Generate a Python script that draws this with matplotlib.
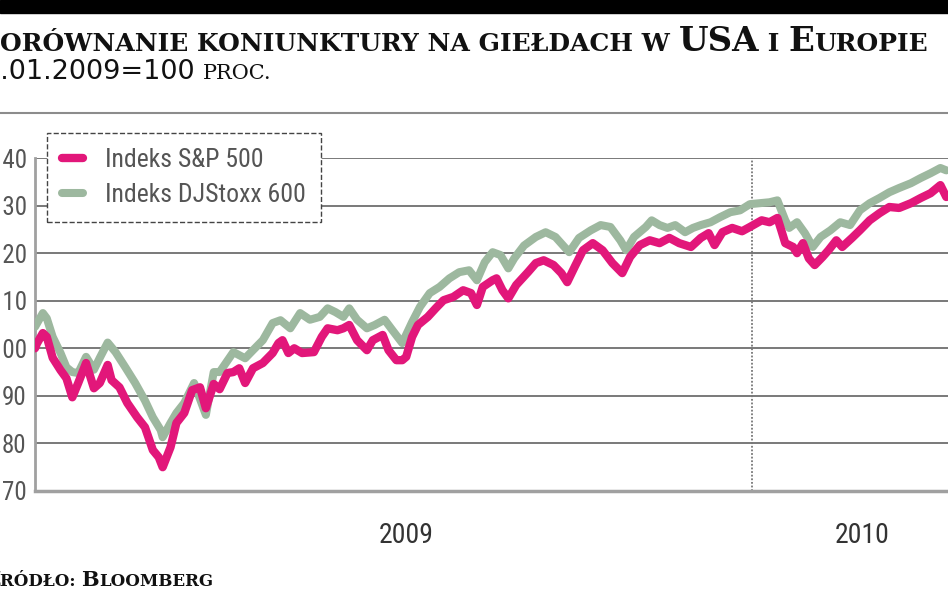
from matplotlib import pyplot as plt
from matplotlib import font_manager
from matplotlib.patches import Rectangle
from matplotlib.lines import Line2D
from matplotlib.transforms import IdentityTransform

# Days counted from 1 Jan 2009, index 2.01.2009 = 100
sp_days = [0, 1, 4, 6, 9, 13, 16, 19, 22, 26, 30, 33, 37, 39, 43, 47, 52, 56, 60, 63,
           65, 69, 72, 76, 80, 84, 87, 91, 94, 98, 101, 104, 107, 111, 116, 121, 124, 126, 129, 132,
           136, 142, 146, 149, 154, 157, 160, 164, 169, 172, 177, 180, 184, 187, 189, 192, 195, 200, 204, 208,
           213, 218, 222, 225, 228, 233, 235, 238, 241, 245, 251, 255, 259, 264, 268, 271, 275, 279, 284, 289,
           294, 299, 303, 308, 313, 318, 323, 328, 334, 339, 343, 346, 350, 355, 360, 364, 370, 374, 378, 380,
           382, 386, 388, 391, 394, 397, 401, 404, 408, 411, 416, 420, 425, 430, 435, 440, 446, 451, 456, 461,
           464]
sp_vals = [100, 101, 103.2, 102.4, 98, 95.4, 93.7, 89.7, 92.7, 96.9, 91.6, 92.7, 96.5, 93.3, 91.8, 88.5, 85.5, 83.4, 78.6, 77.1,
           75, 79.2, 84.3, 86.4, 91.2, 91.8, 87.4, 92.5, 91.4, 94.8, 95, 95.8, 92.7, 95.8, 96.9, 99, 101.1, 101.7, 99, 100,
           99, 99.2, 102.4, 104.2, 103.8, 104.2, 104.9, 101.7, 99.6, 101.7, 102.8, 99.6, 97.5, 97.5, 98.2, 102.4, 104.9, 106.6, 108.4, 110.1,
           110.8, 112.2, 111.6, 109.1, 112.9, 114.3, 114.7, 112.2, 110.5, 113.3, 116, 117.9, 118.5, 117.5, 115.8, 113.9, 117.3, 120.6, 122.1, 120.6,
           117.9, 115.8, 119.2, 121.7, 122.7, 122.1, 123.2, 122.1, 121.3, 123.2, 124.2, 121.7, 124.4, 125.3, 124.6, 125.5, 126.9, 126.5, 127.4, 124.8,
           122.1, 121.3, 120, 122.1, 118.9, 117.5, 119.2, 120.6, 122.7, 121.3, 123.2, 124.8, 126.9, 128.4, 129.7, 129.5, 130.5, 131.6, 132.6, 134.3,
           131.8]

stoxx_days = [0, 4, 6, 9, 13, 16, 19, 22, 26, 30, 33, 37, 41, 46, 51, 56, 60, 64, 65, 69,
              72, 76, 81, 87, 91, 94, 101, 107, 111, 116, 121, 125, 130, 135, 140, 145, 149, 153, 157, 160,
              164, 169, 173, 178, 182, 187, 192, 196, 201, 206, 211, 216, 221, 225, 229, 233, 237, 241, 244, 249,
              255, 260, 265, 270, 272, 277, 283, 288, 293, 298, 301, 305, 311, 314, 318, 322, 326, 331, 335, 339,
              344, 349, 354, 359, 364, 369, 374, 378, 382, 384, 388, 392, 396, 400, 405, 410, 415, 420, 425, 430,
              435, 440, 446, 451, 456, 461, 464]
stoxx_vals = [104.5, 107.4, 106.3, 102.4, 99, 96, 95, 94.8, 98.2, 95.5, 98, 101.2, 99.2, 96, 92.7, 89, 85.5, 82.8, 81.3, 84.3,
              86.4, 88.5, 92.7, 86, 95, 95, 99.2, 97.9, 99.6, 101.7, 105.3, 105.9, 104.2, 107.4, 106, 106.6, 108.4, 107.6, 106.6, 108.4,
              106, 104.2, 104.9, 106, 103.8, 101.1, 105.5, 108.7, 111.6, 112.9, 114.7, 116, 116.4, 114.3, 118.1, 120.2, 119.6, 116.8, 118.9, 121.6,
              123.4, 124.4, 123.4, 121.1, 120.2, 123.2, 124.8, 125.9, 125.5, 122.7, 120.6, 123.4, 125.5, 126.9, 125.9, 125.3, 125.9, 124.4, 125.3, 125.9,
              126.5, 127.6, 128.6, 129, 130.3, 130.5, 130.7, 131.1, 126.9, 125.3, 126.5, 124.2, 121.3, 123.4, 124.8, 126.5, 125.9, 129, 130.5, 131.6,
              132.8, 133.7, 134.7, 135.8, 136.8, 137.9, 137.4]

labels = ["Indeks S&P 500", "Indeks DJStoxx 600"]
year_pos = [189, 421]
year_labels = ["2009", "2010"]
y_ticks = [70, 80, 90, 100, 110, 120, 130, 140]

pink = "#e2177a"
green = "#9db89f"

# look for a narrow sans face, otherwise fall back to a light Roboto at a smaller size
narrow_name, narrow_stretch, scale = "Roboto", "normal", 0.8
found = {}
for f in font_manager.fontManager.ttflist:
    st = f.stretch
    is_narrow = (isinstance(st, str) and "condensed" in st) or (not isinstance(st, str) and st < 500)
    if is_narrow or "Narrow" in f.name or "Condensed" in f.name:
        found.setdefault(f.name, st)
for name in ["Liberation Sans Narrow", "Roboto Condensed", "Open Sans Condensed", "Roboto", "Open Sans",
             "Noto Sans", "DejaVu Sans", "Lato", "Inter"]:
    if name in found:
        narrow_name, narrow_stretch, scale = name, found[name], 1.0
        break
narrow = {"family": [narrow_name, "DejaVu Sans"], "stretch": narrow_stretch}
if scale < 1:
    narrow["weight"] = "light"

W, H = 948, 593
fig = plt.figure(figsize=(W / 100, H / 100), dpi=100)


def fx(px):
    return px / W


def fy(py):
    return 1 - py / H


# Header bar and rule
fig.add_artist(Rectangle((0, fy(13)), 1, 13 / H, transform=fig.transFigure, color="black"))
fig.add_artist(Line2D([0, 1], [fy(113), fy(113)], transform=fig.transFigure, color="#8c8c8c", lw=1.5))

ax = fig.add_axes([fx(35), fy(491), fx(948) - fx(35), fy(158) - fy(491)])

ax.plot(stoxx_days, stoxx_vals, color=green, lw=5.8, solid_joinstyle="round", solid_capstyle="round",
        label=labels[1], zorder=3)
ax.plot(sp_days, sp_vals, color=pink, lw=6, solid_joinstyle="round", solid_capstyle="round",
        label=labels[0], zorder=4)
ax.axvline(365, color="#777777", ls=(0, (1, 1)), lw=1.3, zorder=2)

ax.set_xlim(0, (948 - 35) / 1.964)
ax.set_ylim(70, 140)
ax.set_yticks(y_ticks)
ax.set_yticklabels([str(v) for v in y_ticks], fontsize=18 * scale, color="#555555", **narrow)
ax.set_xticks(year_pos)
ax.set_xticklabels(year_labels, fontsize=20 * scale, color="#333333", **narrow)
ax.tick_params(axis="y", length=0, pad=6)
ax.tick_params(axis="x", length=0, pad=22)
ax.grid(axis="y", color="#6e6e6e", lw=1.3, zorder=1)
ax.set_axisbelow(True)
for side in ["top", "right"]:
    ax.spines[side].set_visible(False)
ax.spines["left"].set_color("#a0a0a0")
ax.spines["left"].set_linewidth(2)
ax.spines["bottom"].set_color("#a0a0a0")
ax.spines["bottom"].set_linewidth(2.5)

handles, labs = ax.get_legend_handles_labels()
leg_prop = dict(narrow)
leg_prop["size"] = 18.5 * scale
leg = ax.legend(handles[::-1], labs[::-1], loc="upper left", bbox_to_anchor=(fx(47), fy(133)),
                bbox_transform=fig.transFigure, borderaxespad=0, prop=leg_prop,
                labelcolor="#555555", fancybox=False, framealpha=1, edgecolor="#444444",
                handlelength=0.8, handletextpad=0.85, labelspacing=0.4, borderpad=0.6)
leg.get_frame().set_linestyle("--")
leg.get_frame().set_linewidth(1)
leg.set_zorder(5)

renderer = fig.canvas.get_renderer()


def run_width(s, **kw):
    a = fig.text(0, 0, s + "|", transform=IdentityTransform(), **kw)
    b = fig.text(0, 0, "|", transform=IdentityTransform(), **kw)
    w = a.get_window_extent(renderer).width - b.get_window_extent(renderer).width
    a.remove()
    b.remove()
    return w


def text_runs(x, y, runs):
    # place runs one after another, x/y in pixels from top-left
    for s, size, props in runs:
        fig.text(x, H - y, s, transform=IdentityTransform(), fontsize=size, va="baseline", ha="left", **props)
        x += run_width(s, fontsize=size, **props)


serif = {"family": "DejaVu Serif", "weight": "bold", "color": "#111111"}
small, big = 18, 24.5

title_runs = [("P", big, serif), ("ORÓWNANIE KONIUNKTURY NA GIEŁDACH W ", small, serif), ("USA", big, serif),
              (" I ", small, serif), ("E", big, serif), ("UROPIE", small, serif)]
text_runs(-run_width("P", fontsize=big, **serif), 51, title_runs)

sub_sans = {"family": "DejaVu Sans", "color": "#111111"}
sub_serif = {"family": "DejaVu Serif", "color": "#111111"}
text_runs(-run_width("2", fontsize=19.5, **sub_sans), 79,
          [("2.01.2009=100 ", 19.5, sub_sans), ("PROC.", 15, sub_serif)])

text_runs(-run_width("Ź", fontsize=15, **serif), 586,
          [("Ź", 15, serif), ("RÓDŁO: ", 12, serif), ("B", 15, serif), ("LOOMBERG", 12, serif)])

plt.savefig("out.png", dpi=100)
